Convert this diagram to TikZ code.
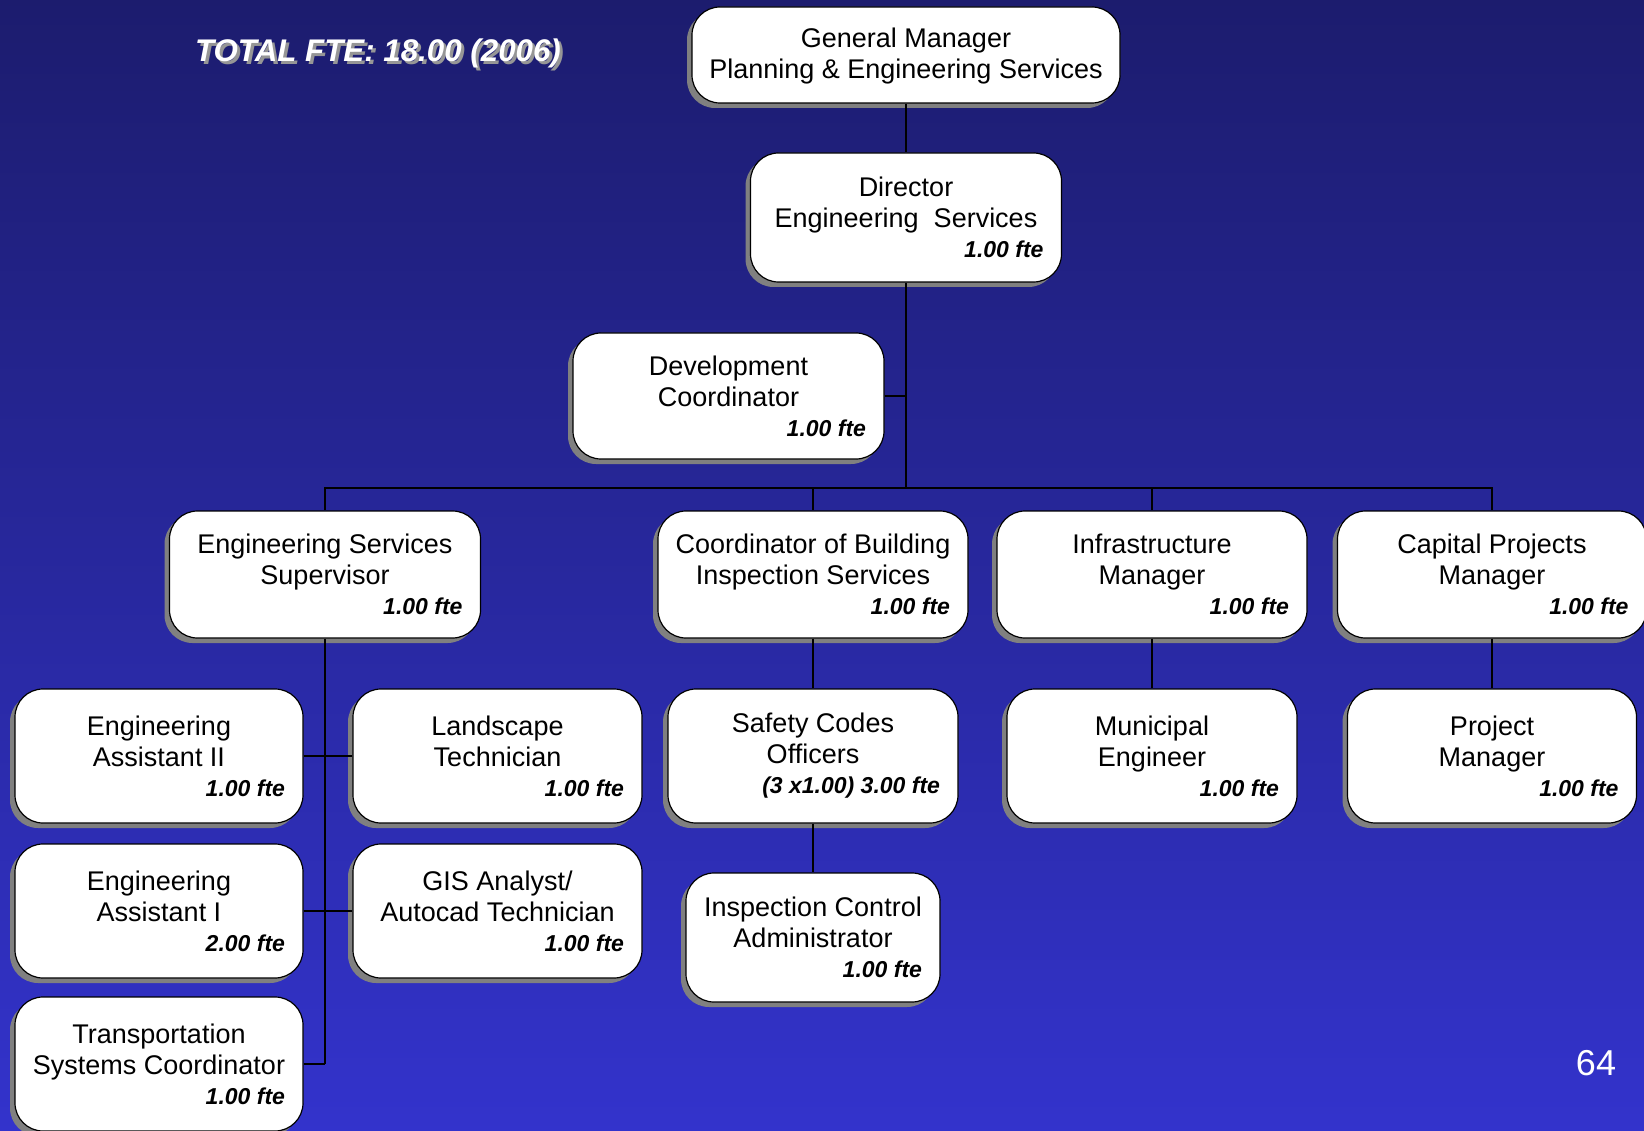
\documentclass[tikz,border=0pt]{standalone}
\usepackage{fontspec}
\setmainfont{Liberation Sans}
\usetikzlibrary{shadows}
\definecolor{bgtop}{RGB}{28,28,110}
\definecolor{bgbottom}{RGB}{51,51,204}
\definecolor{boxshadow}{RGB}{128,128,128}
\definecolor{titleshadow}{RGB}{150,150,150}
\newcommand{\ftefont}{\fontsize{23}{30}\selectfont\bfseries\itshape}
\newcommand{\jobtext}[3]{\parbox{\dimexpr#1pt-24pt\relax}{\centering #2\par\raggedleft\ftefont #3\hspace*{6pt}}}
\tikzset{
  orgbox/.style 2 args={draw=black, line width=1.2pt, fill=white, rounded corners=28pt,
    inner sep=0pt, minimum width=#1pt, minimum height=#2pt,
    font=\fontsize{27}{31}\selectfont,
    general shadow={fill=boxshadow, shadow xshift=-5pt, shadow yshift=-5pt}},
  link/.style={draw=black, line width=1.5pt},
  titletext/.style={font=\fontsize{31.3}{36}\selectfont\bfseries\itshape, anchor=base},
}
\begin{document}
\begin{tikzpicture}[x=1pt, y=-1pt]
\useasboundingbox (0,0) rectangle (1644,1131);
\shade[top color=bgtop, bottom color=bgbottom] (0,0) rectangle (1644,1131);

% title and page number
\node[titletext, text=titleshadow] (total-shadow) at (381,65) {TOTAL FTE: 18.00 (2006)};
\node[titletext, text=white] (total) at (378,62) {TOTAL FTE: 18.00 (2006)};
\node[font=\fontsize{36}{40}\selectfont, text=white, anchor=base] (page) at (1596,1075) {64};

% top
\node[orgbox={428}{96}, align=center] (gm) at (906,55) {\rule{0pt}{22pt}General Manager\\Planning \& Engineering Services};
\node[orgbox={311}{129}] (dir) at (906,217.5) {\jobtext{311}{Director\\Engineering\ \ Services}{1.00 fte}};
\node[orgbox={311}{126}] (dev) at (728.5,396) {\jobtext{311}{Development\\Coordinator}{1.00 fte}};

% second level
\node[orgbox={311}{127}] (ess) at (325,574.5) {\jobtext{311}{Engineering Services\\Supervisor}{1.00 fte}};
\node[orgbox={310}{127}] (cbis) at (813,574.5) {\jobtext{310}{Coordinator of Building\\Inspection Services}{1.00 fte}};
\node[orgbox={310}{127}] (infra) at (1152,574.5) {\jobtext{310}{Infrastructure\\Manager}{1.00 fte}};
\node[orgbox={309}{127}] (cpm) at (1492,574.5) {\jobtext{309}{Capital Projects\\Manager}{1.00 fte}};

% third level
\node[orgbox={288}{134}] (eaii) at (159,756) {\jobtext{288}{Engineering\\Assistant II}{1.00 fte}};
\node[orgbox={289}{134}] (land) at (497.5,756) {\jobtext{289}{Landscape\\Technician}{1.00 fte}};
\node[orgbox={290}{134}] (sco) at (813,756) {\jobtext{290}{Safety Codes\\Officers}{(3 x1.00) 3.00 fte}};
\node[orgbox={290}{134}] (muni) at (1152,756) {\jobtext{290}{Municipal\\Engineer}{1.00 fte}};
\node[orgbox={289}{134}] (pm) at (1492,756) {\jobtext{289}{Project\\Manager}{1.00 fte}};
\node[orgbox={288}{134}] (eai) at (159,911) {\jobtext{288}{Engineering\\Assistant I}{2.00 fte}};
\node[orgbox={289}{134}] (gis) at (497.5,911) {\jobtext{289}{GIS Analyst/\\Autocad Technician}{1.00 fte}};
\node[orgbox={254}{129}] (ica) at (813,937.5) {\jobtext{254}{Inspection Control\\Administrator}{1.00 fte}};
\node[orgbox={288}{134}] (tsc) at (159,1064) {\jobtext{288}{Transportation\\Systems Coordinator}{1.00 fte}};

% lines
\coordinate (hub) at (906,488);
\coordinate (spine) at (325,1064);
\draw[link] (gm) -- (dir);
\draw[link] (dir) -- (hub);
\draw[link] (dev.east) -- (dev.east -| hub);
\draw[link] (hub) -| (ess.north);
\draw[link] (hub) -| (cbis.north);
\draw[link] (hub) -| (infra.north);
\draw[link] (hub) -| (cpm.north);
\draw[link] (ess) -- (spine);
\draw[link] (eaii) -- (land);
\draw[link] (eai) -- (gis);
\draw[link] (tsc) -- (spine);
\draw[link] (cbis) -- (sco);
\draw[link] (sco) -- (ica);
\draw[link] (infra) -- (muni);
\draw[link] (cpm) -- (pm);
\end{tikzpicture}
\end{document}
